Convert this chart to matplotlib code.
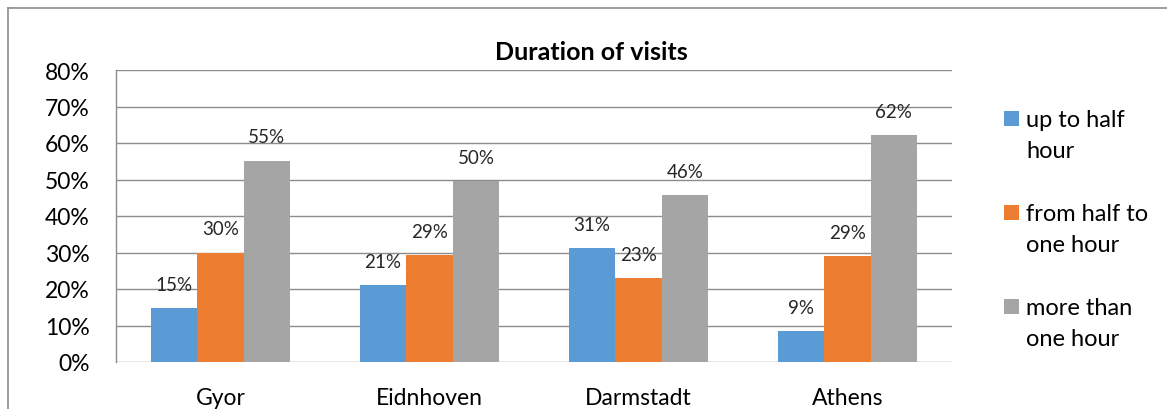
import textwrap
import matplotlib
matplotlib.use("Agg")
import matplotlib.pyplot as plt
import numpy as np
from matplotlib.patches import Rectangle
from matplotlib.lines import Line2D
from matplotlib.ticker import PercentFormatter

# ---- data ----
categories = ["Gyor", "Eidnhoven", "Darmstadt", "Athens"]
series_names = ["up to half hour", "from half to one hour", "more than one hour"]
up_to_half = [0.147, 0.212, 0.313, 0.086]
half_to_one = [0.30, 0.293, 0.23, 0.29]
more_than_one = [0.552, 0.495, 0.458, 0.622]
series_values = [up_to_half, half_to_one, more_than_one]
colors = ["#5B9BD5", "#ED7D31", "#A5A5A5"]
title = "Duration of visits"
yticks = [0, 0.1, 0.2, 0.3, 0.4, 0.5, 0.6, 0.7, 0.8]

FONT = "Lato"
plt.rcParams["font.family"] = [FONT, "DejaVu Sans"]

W, H = 1167, 410
fig = plt.figure(figsize=(W / 100, H / 100), dpi=100)
fig.patch.set_facecolor("white")

# outer chart border (top and left edges visible)
fig.add_artist(Line2D([8 / W, 1.0], [1 - 9 / H, 1 - 9 / H], transform=fig.transFigure,
                      color="#8C8C8C", lw=1.2))
fig.add_artist(Line2D([8 / W, 8 / W], [0, 1 - 9 / H], transform=fig.transFigure,
                      color="#8C8C8C", lw=1.2))

ax = fig.add_axes([116 / W, 1 - 363 / H, (952 - 116) / W, (363 - 71) / H])

x = np.arange(len(categories))
bw = 0.222
for i, (vals, col) in enumerate(zip(series_values, colors)):
    offs = (i - 1) * bw
    bars = ax.bar(x + offs, vals, width=bw, color=col, zorder=3, linewidth=0)
    for xi, v in zip(x, vals):
        ax.annotate(f"{v:.0%}", (xi + offs, v), xytext=(0, 13), textcoords="offset points",
                    ha="center", va="baseline", fontsize=13.5, color="#262626")

ax.set_xlim(-0.5, len(categories) - 0.5)
ax.set_ylim(0, 0.8)
ax.set_yticks(yticks)
ax.yaxis.set_major_formatter(PercentFormatter(1.0, decimals=0))
ax.set_xticks(x)
ax.set_xticklabels(categories)
ax.grid(axis="y", color="#8C8C8C", lw=1.0, zorder=0)
for s in ["top", "right", "bottom"]:
    ax.spines[s].set_visible(False)
ax.spines["left"].set_color("#8C8C8C")
ax.spines["left"].set_linewidth(1.0)
ax.tick_params(axis="y", length=0, pad=19, labelsize=16.5, labelcolor="#000000")
ax.tick_params(axis="x", length=0, pad=18, labelsize=16.5, labelcolor="#000000")

fig.text(591 / W, 1 - 52 / H, title, ha="center", va="center", fontsize=18,
         fontweight="bold", color="#000000")

# legend (manual)
for i, (name, col) in enumerate(zip(series_names, colors)):
    ytop = 112 + i * 94
    fig.add_artist(Rectangle((1004 / W, 1 - (ytop + 15) / H), 15 / W, 15 / H,
                             transform=fig.transFigure, color=col, lw=0))
    fig.text(1026 / W, 1 - (ytop - 2) / H, textwrap.fill(name, 12), ha="left", va="top",
             fontsize=17, linespacing=1.6, color="#000000")

fig.savefig("out.png", dpi=100, facecolor="white")
